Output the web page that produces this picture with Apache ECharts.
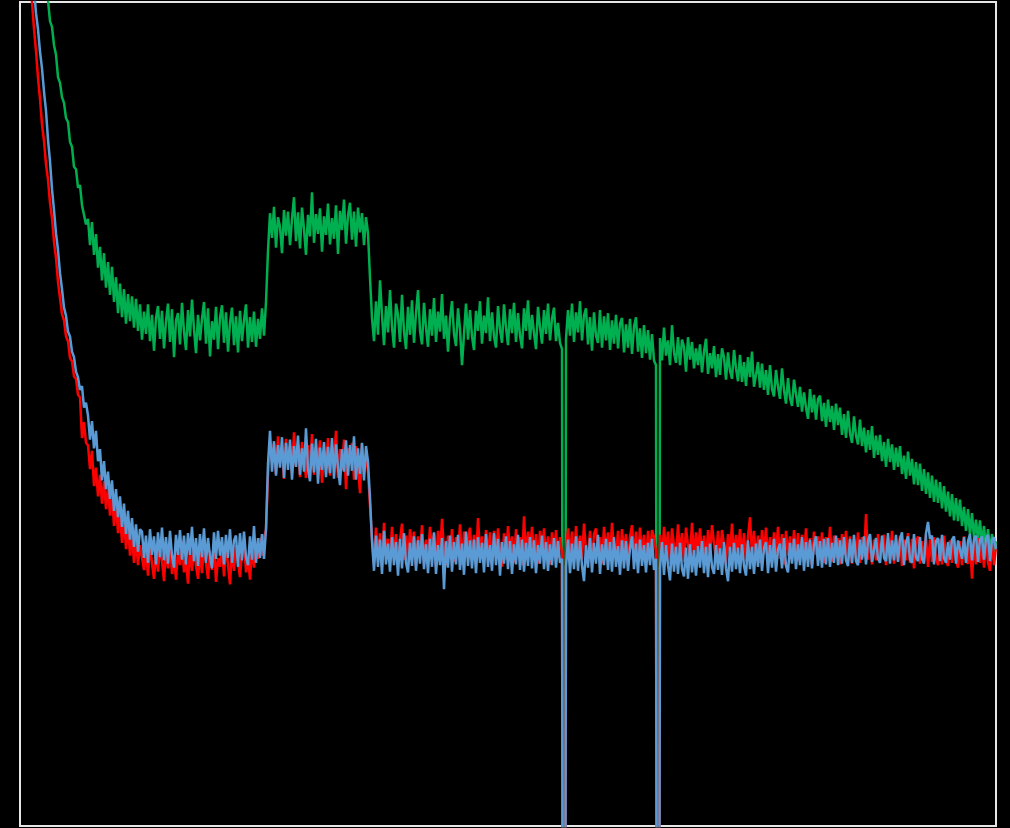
<!DOCTYPE html>
<html>
<head>
<meta charset="utf-8">
<script src="https://cdn.jsdelivr.net/npm/echarts@6/dist/echarts.min.js"></script>
<style>
html,body{margin:0;padding:0;background:#000;}
#chart{width:1010px;height:828px;}
</style>
</head>
<body>
<div id="chart"></div>
<script>
// sample index 0..488, intensity in arbitrary units; -100 marks the two dropouts
const green = [
130,128,125.5,123.8,121,118.2,116.3,113.8,112.2,109.7,
108.8,106.2,105.3,103.6,103.2,100.6,99.9,97.6,96.4,93.6,
92.9,91.1,90.4,88.5,88,85.5,84.9,82.4,82.1,79.8,
80.1,77.6,77.8,75.2,75.9,72.6,75.5,71.4,74,69.8,
72.4,68.2,71.6,67.3,70.5,66.4,69.9,65.5,68.6,64.1,
67.8,63.6,67.1,62.8,66.5,63.1,66.2,62.3,65.9,61.9,
65.2,
60.8,64.3,61.5,65.2,60.6,63.9,59.4,63.5,65,60.9,
64.4,59.7,63.1,65.3,60.5,64.6,58.6,63.2,64.1,60.2,
65.4,61.8,59.5,64.5,61.2,65.8,62.1,59.1,63.9,60.7,
63.4,65.5,60.3,64.7,58.7,63.1,60.8,64.9,59.6,63.5,
65.1,60.4,64.2,59.3,62.9,64.8,60.1,63.7,59.2,64.4,
60.6,63.2,65.2,59.8,63.6,60.5,64.3,59.9,63.4,60.9,
64.7,61.3,65.5,
71.9,76.6,73.5,77.4,72.3,76.1,74.9,71.6,77,73.8,
76.8,72.6,75.9,78.6,73.1,76.7,72.2,77.3,74.6,71.4,
76.4,73.7,79.2,72.9,76.5,74,77.2,71.8,76.2,73.9,
77.8,72.7,76,73.4,77.6,71.5,76.9,74.5,78.3,72.8,
76.3,77.9,73.3,76.8,72.4,77.3,74.2,76.6,72.6,76.1,
74.1,
68.5,
63.5,60.6,65.6,61.4,68.2,63.9,60.1,65,61.7,67,
62.4,59.8,65.3,63.9,60.5,66.4,61.8,59.6,64.9,61.4,
65.7,60.4,64.1,67,61.9,60.2,65.4,62.3,59.9,64.6,
61.3,66,60.5,64.3,61.8,66.5,60.9,63.8,59.3,63.4,
65.6,61.5,60,64.7,62.1,57.6,61.5,65.3,60.8,64.5,
61.2,59.5,64.4,61.9,65.6,60.3,63.8,61.6,66.1,60.6,
64.2,61.2,59.8,65,62.1,60.4,65.2,62.3,60.1,64.6,
61.6,65.4,60.5,64.1,61.3,59.7,64.7,61.9,65.7,60.8,
63.9,61.6,59.6,64.9,62.4,60.3,64.5,61.5,65.3,60.7,
63.4,64.8,60.6,62.9,60.4,59.6,
-100,
60.9,64.5,61.3,65.3,60.5,64.2,61.7,65.6,60.7,63.8,
64.7,60.2,63.6,59.4,64.2,61.3,60.4,64.5,59.8,63.7,
60.7,64.1,59.5,63.2,60.3,63.9,59.7,62.8,63.5,59.2,
62.7,59.8,63.4,59,62.4,63.6,59.3,62.2,58.5,62.6,
59.1,62,58.3,61.5,58.2,57.6,
-100,
61,58.2,62.3,58.8,60.7,57.6,62.6,59.2,57.9,61.1,
57.6,60.8,59.9,56.8,61.1,58.3,60.5,57.2,59.7,57.6,
60.2,56.7,59.3,60.9,56.5,59.1,57.2,60,56.1,59,
56.4,59.7,58.6,55.8,59.2,56.9,55.9,59.5,57.2,55.6,
58.9,55.5,58,55,58.6,56.1,59.3,54.9,56.4,58,
54.8,57.8,54.5,57,53.9,57.6,54.6,53.7,57,54.9,
53.4,57.2,54.5,52.8,56,53.5,52.5,55.8,54,52.4,
54.9,51.8,54.2,52.3,50.9,54.6,51.7,53.9,50.8,53.4,
53.8,50.6,52.9,49.9,53.3,50.5,52.5,49.5,52.8,50.1,
52.3,48.9,51.5,48.5,51.9,49.1,47.9,51.2,48.8,47.7,
50.8,47.5,49.8,46.7,49.5,47,50,46,48.8,46.4,
48.9,45.6,48,44.9,48.4,45.5,47.7,44.5,47.3,44.9,
47.5,44,46.3,43.4,46.8,43.8,45.9,42.7,45.5,42.6,
45.3,41.9,44.6,41.5,44.2,41,43.8,40.5,43.3,40.4,
43,39.7,42.5,39.3,41.8,38.7,41.5,38.2,41,38.1,
40.8,37.5,39.9,36.9,39.6,36.4,39.1,36,38.3,35.7,
38.2,35.1,37.5,34.7,37.1,34.3,36.5,34,35.6
];

const red = [
122,119,116,112.5,109.2,105.8,103,99.6,96.9,93.5,
90.9,87.7,85.6,82.7,80.8,77.9,76,73,71,68,
66,64,63.2,61.2,60.6,58.5,58.1,56.2,55.9,53.9,
53.6,48.5,50.5,47.9,47.6,44.6,46.9,42.5,44.8,41.2,
43.9,40.3,43.1,39.6,42.4,38.8,41.6,37.5,40.3,36.6,
39.2,35.4,38.3,34.6,37.5,33.8,36.4,32.9,35.8,32.6,
35.1,
34.9,32,34.4,31.3,35.2,32.8,30.9,34.3,31.8,35,
33.1,30.6,34.7,32.2,35.3,31.5,33.8,30.8,34.5,32.6,
35.6,31.7,33.2,30.3,34.6,31.9,35,32.5,30.9,34.2,
31.6,35.2,32.9,30.9,34.4,32,35.4,30.5,33.5,32.4,
35,31.2,35.3,32.6,30.2,34.5,31.9,35.1,33,31.1,
34.2,35.7,31.7,33.6,30.8,34.8,32.3,35.2,33.4,36,
33.8,36.1,37,
43.8,48.1,45.5,47.8,44,48.7,45.3,47,43.4,48.4,
45.6,47.5,44.1,49.2,44.9,47.7,43.6,48,45.9,43.5,
47.6,44.6,49,43.9,47.3,45.1,48.2,42.9,46.9,44.7,
48.5,43.8,47.4,45.6,49.4,43.5,47.1,44.5,48.3,42.1,
47.2,45.3,47.9,43.3,47.5,44.9,41.6,47.8,44.2,46.4,
44.3,
40,
36,32.9,37.3,33.6,36.6,32.4,37.9,34.2,35.9,33.1,
37.4,33.6,36.5,32.6,35.8,37.8,33.3,36.3,32.9,37.1,
34.5,36.8,32.5,36.2,34,37.6,32.9,35.8,33.4,37.4,
34.3,36.6,32.4,36.9,33.8,38.4,34.4,32.6,36.3,33.5,
37.1,33,36.1,34,37.7,32.6,36.8,33.6,35.9,37.3,
33.3,36.4,32.8,38.5,34.2,36.2,33,37,33.8,36.7,
32.7,36.9,33.7,37.2,34.4,32.4,36.6,33.3,37.5,34.2,
36.2,32.9,37.1,33.9,36.1,32.6,38.7,33.5,36.8,34.3,
37.4,33.4,36.5,32.8,36.9,34.1,37.2,33.3,36.2,32.7,
36.7,33.8,37,33.5,36.1,34,
-100,
34.3,37.2,33.6,36.8,33,37.5,34,36.3,33.3,37.8,
34.4,33.4,36.9,32.9,36.5,37.2,33.8,36.1,32.8,37.4,
34.1,36.7,33.3,37.9,34.5,33.6,36.9,33,37.1,34.2,
36.5,32.7,36.2,37.6,33.5,36.8,33.2,37.3,34,36.4,
33,36.9,33.8,37,36.1,34.3,
-100,
36.4,33.4,37.4,34.2,36.8,32.8,37.2,35,33.6,37.7,
34,36.6,33,37.3,35.1,33.7,37.9,33.4,36.7,34.2,
37.2,33.8,36.3,32.9,37,33.9,37.6,35.3,33.2,36.9,
33.6,37,35.1,32.7,36.5,34,37.8,33.5,36.4,34.1,
37.1,33.7,36.6,33,36.2,38.6,33.8,36.9,33.3,36.3,
32.9,37,34,37.3,33.5,36.1,32.9,36.7,34.1,37.4,
33.4,36.5,32.7,36.9,33.8,36.2,33.1,37,33.8,36.6,
33,36.4,33.6,37.2,33.3,36,32.6,36.8,33.9,36.2,
33.2,36.7,32.9,36.1,33.8,37.4,33,36.3,33.5,36,
32.7,36.5,33.9,36.9,33.1,36.2,32.8,35.9,33.4,36.7,
32.9,36.1,33.6,39,33.3,36.3,32.7,35.8,33.2,36.5,
33,35.7,36.4,32.6,36,33.4,36.9,32.8,35.6,33.1,
36.3,32.5,35.8,33.2,36.6,32.9,35.9,32.2,35.5,36.2,
32.8,35.6,33.1,36.4,32.4,35.8,33,36.1,33.5,32.6,
35.9,32.7,36.3,33.2,32.5,35.7,32.9,36,33.2,32.3,
35.6,32.6,36.2,33.1,32.8,35.8,30.9,35.5,32.7,36,
32.9,35.4,32.3,35.7,32.9,31.9,35.3,32.6,34.9
];

const blue = [
125,122,119,116,113,110.2,106.8,104.7,101.6,99.6,
96.8,94.7,91.8,89.4,85.8,83.1,79.6,77,74.1,72,
69.1,67.1,64.8,63.8,61.8,61.2,59.3,58.6,56.8,56.1,
54.5,55,52.3,52.9,51.3,48.3,50.6,47.2,49.4,45.6,
47.1,43.2,45.6,42.1,44.3,40.9,43.2,39.4,42.1,38.6,
41.2,37.4,40.3,36.5,39.4,35.8,38.5,34.9,37.7,34.3,
37.1,
36.8,33.5,36.3,32.9,37.1,33.9,36.2,32.7,36.7,33.6,
37.3,33.2,36.1,32.8,36.9,33.8,32.3,36.4,33.9,37,
33.3,36.3,32.7,36.6,33.9,37.4,33.1,36,32.5,36.5,
33.6,37.2,32.9,36,33.7,32.2,36.7,33.4,36.9,33.8,
36.1,32.7,36.4,33.5,37.1,32.9,35.7,36.3,32.4,36.6,
33.2,36.8,33.6,32.6,36.2,33.3,37.5,32.9,36,33.5,
36.5,33.4,37.1,
45.3,49.4,44.3,48.1,43.8,47.6,44.8,48.6,43.5,47.9,
44.5,48.3,43.3,47.5,44.9,48.8,43.9,47.2,44.3,49.7,
44.6,43.1,47.8,44.2,48.4,42.8,47.3,44.5,48,43.6,
47.4,44.1,48.5,43.4,47.7,44.8,42.6,47.1,44.3,48.2,
43.8,47.6,44.4,48.7,43.3,47.2,44,47.9,43.2,47.5,
45.5,
41,
35.6,31.9,36.3,32.4,35.8,31.5,36.9,32.7,35.3,31.8,
36.1,32.6,35.5,31.3,35.9,32.2,36.6,32.9,31.7,35.4,
32.5,36.2,31.9,35.7,32.8,36.5,32.1,35.2,31.6,35.9,
32.4,36.7,31.5,35.1,32.6,36,29.6,35.6,32.3,36.3,
31.8,35.5,32.7,36.4,32,35.3,31.4,36.8,32.5,35.7,
32.2,35.8,31.6,36.1,32.9,35.4,31.7,36.5,32.4,35.1,
31.9,36.6,32.6,35.9,31.3,35.5,32.8,36.2,32.1,35.6,
31.5,35.2,32.7,36.4,32,35.8,31.8,35.4,32.5,36.1,
32.2,35.7,31.6,35.1,32.8,36.3,32.1,35.5,31.9,35.2,
32.6,36,32.3,35.6,32.9,33.4,
-100,
32.4,35.8,31.6,35.3,32.1,36.2,31.9,35.6,32.5,30.6,
35.1,32.3,36,31.7,35.4,32.8,36.4,31.5,35.2,32.6,
35.9,32,35.5,31.8,36.1,32.4,35,31.4,35.7,32.2,
35.6,31.9,34.7,36.2,32.1,35.3,31.6,35.8,32.5,35.1,
31.7,35.4,32.6,35.9,32,33.4,
-100,
32.2,35.5,31.4,35.1,32.6,30.7,35.3,31.8,34.9,31.5,
35.4,32.1,31.2,34.8,30.9,35.2,31.7,34.5,31.3,35,
32.3,35.6,31.6,34.9,31.1,35.3,32.4,31.5,35.1,32,
34.7,31.4,35.5,32.2,30.6,34.9,31.8,35.4,32.1,34.8,
31.6,35.2,32.5,31.3,35.7,32.1,34.9,31.5,35.3,32.4,
35.8,31.9,34.7,35.5,31.6,35.1,32.3,35.9,31.8,34.6,
35.3,32.2,36,32.5,31.7,35.4,32.8,35.9,32.1,35.2,
32.6,36.1,31.9,35.5,32.4,35.8,32.2,35.1,36.2,32.5,
35.6,32.3,35.9,32.7,36,32.4,35.4,32.9,36.3,32.6,
35.7,32.8,36.1,33.2,32.5,35.9,32.9,36.4,33.1,32.6,
35.8,33.3,36.2,32.7,35.6,36.5,33,32.8,36,33.4,
32.9,36.3,33.5,33.1,36.6,32.8,35.7,33.2,36.4,33,
35.8,36.7,32.6,35.5,36.2,33.3,32.9,36.5,33.6,33.1,
36.1,33.4,32.8,36.6,38,35.9,36.3,32.7,35.6,36,
33.1,36.4,33.5,32.9,35.5,33.3,35.8,36.2,32.8,35.7,
35.9,33.4,36.1,32.9,35.6,36.5,33.2,35.9,36.3,33,
35.8,36.2,33.3,35.9,36.4,33.1,35.7,36.1,34.6
];

const toPairs = arr => arr.map((v, i) => [i, v]);
const lastIndex = green.length - 1;

const chart = echarts.init(document.getElementById('chart'));
const hiddenAxis = {
  axisLine: {show: false}, axisTick: {show: false}, axisLabel: {show: false}, splitLine: {show: false}
};
const opt = {
  backgroundColor: '#000',
  animation: false,
  grid: {left: 20, right: 14, top: 2, bottom: 2, show: true, borderColor: '#e6e6e6', borderWidth: 2},
  xAxis: Object.assign({type: 'value', min: 0, max: lastIndex}, hiddenAxis),
  yAxis: Object.assign({type: 'value', min: 0, max: 103}, hiddenAxis),
  series: [
    {type: 'line', data: toPairs(green), showSymbol: false, symbol: 'none', clip: true, lineStyle: {color: '#00b050', width: 2.5}},
    {type: 'line', data: toPairs(red), showSymbol: false, symbol: 'none', clip: true, lineStyle: {color: '#ff0000', width: 2.5}},
    {type: 'line', data: toPairs(blue), showSymbol: false, symbol: 'none', clip: true, lineStyle: {color: '#5b9bd5', width: 2.5}}
  ]
};
if (green.length !== 489 || red.length !== 489 || blue.length !== 489) {
  opt.title = {text: 'len ' + green.length + ' ' + red.length + ' ' + blue.length, textStyle: {color: '#fff'}, left: 400, top: 700};
}
chart.setOption(opt);
</script>
</body>
</html>
